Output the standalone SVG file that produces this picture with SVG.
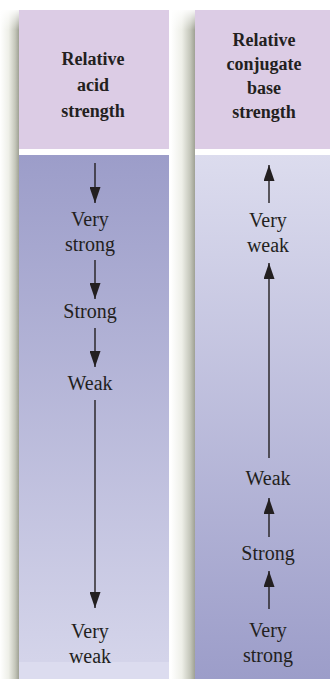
<svg xmlns="http://www.w3.org/2000/svg" width="330" height="679" viewBox="0 0 330 679">
<defs>
<linearGradient id="shadow" x1="0" y1="0" x2="1" y2="0">
<stop offset="0" stop-color="#ffffff"/>
<stop offset="0.45" stop-color="#eeefe8"/>
<stop offset="0.8" stop-color="#c4c6ba"/>
<stop offset="1" stop-color="#9fa194"/>
</linearGradient>
<linearGradient id="shadowTop" x1="0" y1="0" x2="0" y2="1">
<stop offset="0" stop-color="#ffffff" stop-opacity="1"/>
<stop offset="1" stop-color="#ffffff" stop-opacity="0"/>
</linearGradient>
<linearGradient id="down" x1="0" y1="0" x2="0" y2="1">
<stop offset="0" stop-color="#9c9dc9"/>
<stop offset="1" stop-color="#d6d6eb"/>
</linearGradient>
<linearGradient id="up" x1="0" y1="0" x2="0" y2="1">
<stop offset="0" stop-color="#dcdcee"/>
<stop offset="1" stop-color="#9c9dc9"/>
</linearGradient>
<marker id="ah" viewBox="0 0 16 11" refX="16" refY="5.5" markerWidth="16" markerHeight="11" markerUnits="userSpaceOnUse" orient="auto">
<path d="M0,0 L16,5.5 L0,11 Z" fill="#231f20"/>
</marker>
<style>
.hdr{fill:#dccce5}
.ht{font-family:"Liberation Serif","Times New Roman",serif;font-weight:bold;font-size:18px;fill:#231f20;text-anchor:middle}
.bt{font-family:"Liberation Serif","Times New Roman",serif;font-size:20px;fill:#231f20;text-anchor:middle}
.ar{stroke:#231f20;stroke-width:1.4;fill:none;marker-end:url(#ah)}
</style>
</defs>
<rect width="330" height="679" fill="#ffffff"/>
<g id="shadows">
<rect x="0" y="10" width="19" height="669" fill="url(#shadow)"/>
<rect x="0" y="8" width="19" height="22" fill="url(#shadowTop)"/>
<rect x="171" y="10" width="24" height="669" fill="url(#shadow)"/>
<rect x="171" y="8" width="24" height="22" fill="url(#shadowTop)"/>
</g>
<g id="acid-column">
<rect class="hdr" x="19" y="10" width="150" height="139"/>
<rect x="19" y="155" width="150" height="524" fill="url(#down)"/>
<rect x="19" y="662" width="150" height="17" fill="#dcdcef"/>
<text class="ht" x="93" y="65">Relative</text>
<text class="ht" x="93" y="91">acid</text>
<text class="ht" x="93" y="117">strength</text>
</g>
<g id="base-column">
<rect class="hdr" x="195" y="10" width="135" height="139"/>
<rect x="195" y="155" width="135" height="524" fill="url(#up)"/>
<text class="ht" x="264" y="46">Relative</text>
<text class="ht" x="264" y="70">conjugate</text>
<text class="ht" x="264" y="94">base</text>
<text class="ht" x="264" y="118">strength</text>
</g>
<g id="acid-very-strong"><text class="bt" x="90" y="226">Very</text><text class="bt" x="90" y="251">strong</text></g>
<g id="acid-strong"><text class="bt" x="90" y="318">Strong</text></g>
<g id="acid-weak"><text class="bt" x="90" y="390">Weak</text></g>
<g id="acid-very-weak"><text class="bt" x="90" y="638">Very</text><text class="bt" x="90" y="663">weak</text></g>
<g id="base-very-weak"><text class="bt" x="268" y="227">Very</text><text class="bt" x="268" y="252">weak</text></g>
<g id="base-weak"><text class="bt" x="268" y="485">Weak</text></g>
<g id="base-strong"><text class="bt" x="268" y="560">Strong</text></g>
<g id="base-very-strong"><text class="bt" x="268" y="637">Very</text><text class="bt" x="268" y="662">strong</text></g>
<g id="connectors">
<line class="ar" x1="95" y1="163" x2="95" y2="203"/>
<line class="ar" x1="95" y1="260" x2="95" y2="299"/>
<line class="ar" x1="95" y1="328" x2="95" y2="367"/>
<line class="ar" x1="95" y1="400" x2="95" y2="608"/>
<line class="ar" x1="269" y1="203" x2="269" y2="165"/>
<line class="ar" x1="269" y1="458" x2="269" y2="263"/>
<line class="ar" x1="269" y1="537" x2="269" y2="498"/>
<line class="ar" x1="269" y1="609" x2="269" y2="571"/>
</g>
</svg>
